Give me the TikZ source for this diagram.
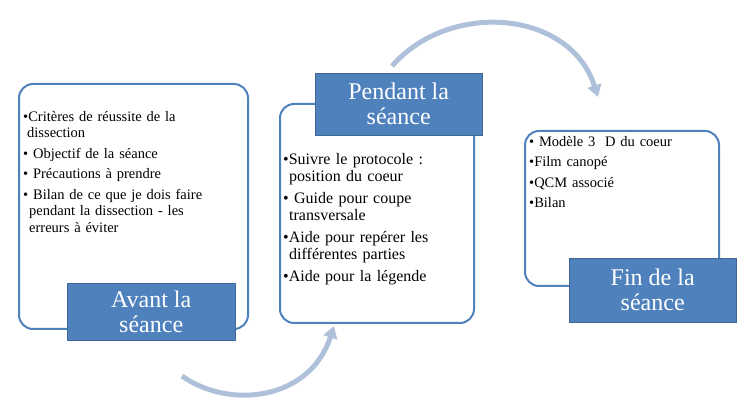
\documentclass[tikz,border=0pt]{standalone}
\usepackage{fontspec}
\setmainfont{Liberation Serif}
\usetikzlibrary{arrows.meta}
\definecolor{bl}{HTML}{4F81BD}
\definecolor{arr}{HTML}{AFC0DA}
\tikzset{
 panel/.style={draw=bl,line width=2pt,rounded corners=14pt,fill=white},
 lab/.style={draw=bl!80!black,fill=bl,text=white,font=\fontsize{24}{25}\selectfont,align=center,inner sep=0pt},
 txt/.style={anchor=north west,align=left,font=\fontsize{14.5}{16.5}\selectfont,inner sep=0pt},
 flow/.style={draw=arr,line width=5pt,-{Triangle[length=12pt,width=14pt]}}
}
\begin{document}
\begin{tikzpicture}[x=1pt,y=-1pt]
\useasboundingbox (0,0) rectangle (753,414);
\coordinate (a1) at (182,376); \coordinate (a2) at (334,326);
\draw[flow] (a1) .. controls (230,410) and (310,400) .. (a2);
\coordinate (b1) at (392,66); \coordinate (b2) at (598,97);
\draw[flow] (b1) .. controls (450,0) and (570,10) .. (b2);
\node[panel,minimum width=229,minimum height=245,anchor=north west] (p1) at (18,83) {};
\node[panel,minimum width=194,minimum height=219,anchor=north west] (p2) at (279,103) {};
\node[panel,minimum width=194,minimum height=155,anchor=north west] (p3) at (524,130) {};
\node[txt,text width=220] (t1) at (23,111) {•Critères de réussite de la\\\hspace*{4pt}dissection\\[4pt]• Objectif de la séance\\[4pt]•~Précautions à prendre\\[4pt]• Bilan de ce que je dois faire\\\hspace*{6pt}pendant la dissection - les\\\hspace*{6pt}erreurs à éviter};
\node[txt,text width=190,font=\fontsize{16}{17.5}\selectfont] (t2) at (283,153) {•Suivre le protocole :\\\hspace*{6pt}position du coeur\\[4pt]•~Guide pour coupe\\\hspace*{6pt}transversale\\[4pt]•Aide pour repérer les\\\hspace*{6pt}différentes parties\\[4pt]•Aide pour la légende};
\node[txt,text width=185] (t3) at (529,136) {•~Modèle 3~~D du coeur\\[4pt]•Film canopé\\[4pt]•QCM associé\\[4pt]•Bilan};
\node[lab,minimum width=168,minimum height=57,anchor=north west] (l1) at (67,283) {Avant la\\séance};
\node[lab,minimum width=167,minimum height=62,anchor=north west] (l2) at (315,73) {Pendant la\\séance};
\node[lab,minimum width=167,minimum height=64,anchor=north west] (l3) at (569,258) {Fin de la\\séance};
\end{tikzpicture}
\end{document}
